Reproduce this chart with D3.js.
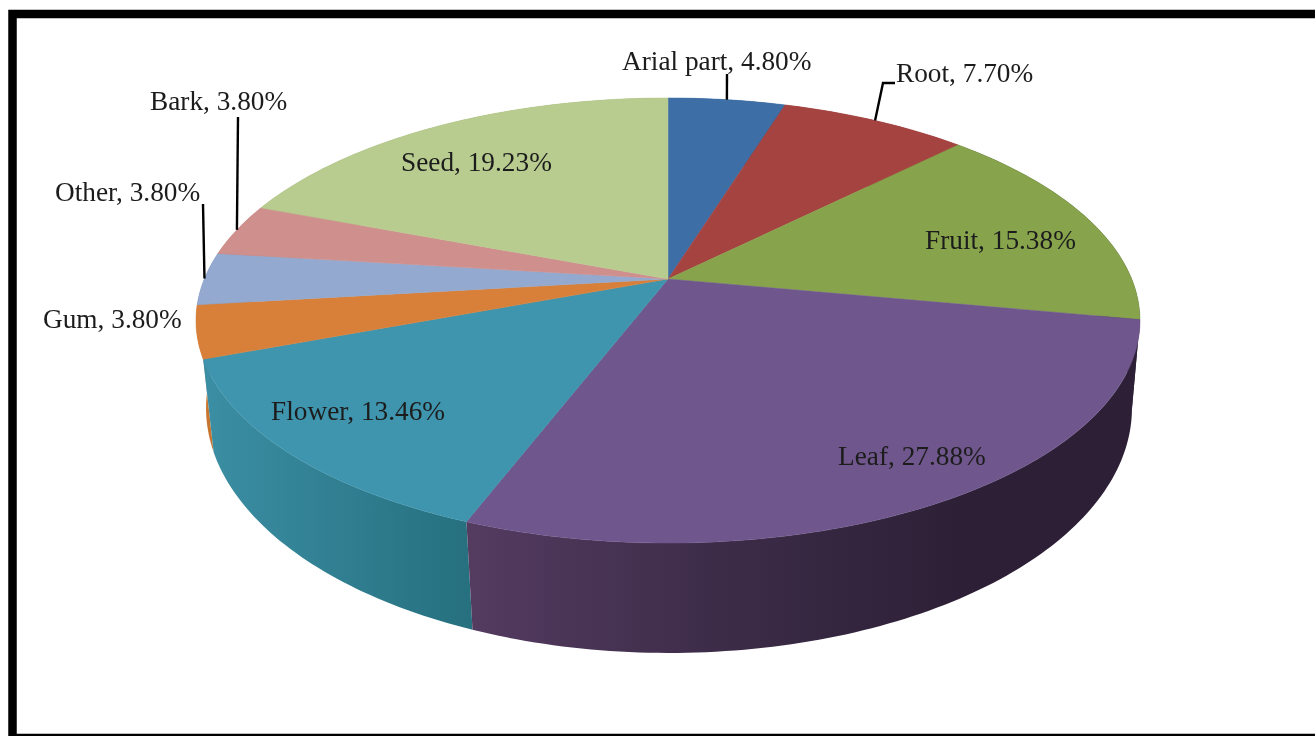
<!DOCTYPE html>
<html><head><meta charset="utf-8">
<script src="https://cdn.jsdelivr.net/npm/d3@7"></script>
<style>html,body{margin:0;padding:0;background:#fff;overflow:hidden}svg{display:block}
text{font-family:"Liberation Serif","Times New Roman",serif;font-size:27.3px;fill:#1c1c1c}</style>
</head><body><svg id="c" width="1315" height="736"></svg>
<script>
const categories = ["Arial part","Root","Fruit","Leaf","Flower","Gum","Other","Bark","Seed"];
const values = [4.80,7.70,15.38,27.88,13.46,3.80,3.80,3.80,19.23];
const valueLabels = ["4.80%","7.70%","15.38%","27.88%","13.46%","3.80%","3.80%","3.80%","19.23%"];
const topColors = ["#3d6fa6","#a54341","#87a44c","#6f568c","#3f95ae","#d8803a","#93a9cf","#cf8f8d","#b8cc90"];
// side-wall colour stops, by screen x (left to right)
const wallStops = [
  [[0,"#2f5681"]],
  [[0,"#7f3331"]],
  [[0,"#2d2036"]],
  [[470,"#543b60"],[700,"#3e2d4a"],[960,"#2d2036"],[1140,"#2d2036"]],
  [[205,"#3b8ea3"],[470,"#26707f"]],
  [[0,"#c9752f"]],
  [[0,"#7386a6"]],
  [[0,"#a06e6c"]],
  [[0,"#8f9f70"]]
];
const labelX = [622,896,925,838,271,43,55,150,401];
const labelY = [70,82,249,465,420,328,201,110,171];
// leader elbow per label; null = no leader
const leaderElbows = [[[727,74]],[[883,83],[895,83]],null,null,null,null,[[203,204]],[[238,117]],null];

const svg = d3.select("#c");
const defs = svg.append("defs");
defs.append("filter").attr("id","soft").append("feGaussianBlur").attr("stdDeviation",0.35);

// page frame
svg.append("path").attr("d","M12.5 736V14H1315").attr("fill","none").attr("stroke","#000").attr("stroke-width",8.5);
svg.append("path").attr("d","M12 735H1315").attr("fill","none").attr("stroke","#000").attr("stroke-width",2.5);

// perspective disc: angle (clockwise from 12 o'clock) -> screen
const disc = (cx,cy,a,b,k) => t => {
  const u=Math.sin(t), v=-Math.cos(t), w=1-k*v;
  return [cx+a*u/w, cy+b*v/w];
};
const topRim  = disc(668,279,463.7,214.8,0.1865);
const baseRim = disc(669,363.9,455.4,237,0.18);

const arcs = d3.pie().sort(null).value(d=>d)(values);
const line = d3.line();
const STEP = Math.PI/180;
const samples = (a,b) => { const n=Math.max(1,Math.ceil((b-a)/STEP)); return d3.range(n+1).map(i=>a+(b-a)*i/n); };

wallStops.forEach((stops,i)=>{
  if(stops.length<2) return;
  const x0=stops[0][0], x1=stops[stops.length-1][0];
  const g=defs.append("linearGradient").attr("id","wall"+i).attr("gradientUnits","userSpaceOnUse")
    .attr("x1",x0).attr("x2",x1).attr("y1",0).attr("y2",0);
  stops.forEach(s=>g.append("stop").attr("offset",(s[0]-x0)/(x1-x0)).attr("stop-color",s[1]));
});

// side walls, far ones first
const depth = d => -Math.cos((d.startAngle+d.endAngle)/2);
const wallOrder = arcs.slice().sort((p,q)=>d3.ascending(depth(p),depth(q)));
svg.append("g").selectAll("path").data(wallOrder).join("path")
  .attr("d",d=>{
    const s=samples(d.startAngle,d.endAngle);
    return line([...s.map(topRim),...s.slice().reverse().map(baseRim)])+"Z";
  })
  .attr("fill",d=>wallStops[d.index].length>1?`url(#wall${d.index})`:wallStops[d.index][0][1]);

// top face
svg.append("g").selectAll("path").data(arcs).join("path")
  .attr("d",d=>line([[668,279],...samples(d.startAngle,d.endAngle).map(topRim)])+"Z")
  .attr("fill",(d,i)=>topColors[i]).attr("stroke",(d,i)=>topColors[i]).attr("stroke-width",0.5);

// leaders
svg.append("g").selectAll("path").data(arcs.filter((d,i)=>leaderElbows[i])).join("path")
  .attr("d",d=>line([topRim((d.startAngle+d.endAngle)/2),...leaderElbows[d.index]]))
  .attr("fill","none").attr("stroke","#000").attr("stroke-width",2.4);

// labels
svg.append("g").attr("filter","url(#soft)").selectAll("text").data(categories).join("text")
  .attr("x",(d,i)=>labelX[i]).attr("y",(d,i)=>labelY[i])
  .text((d,i)=>`${d}, ${valueLabels[i]}`);
</script></body></html>
